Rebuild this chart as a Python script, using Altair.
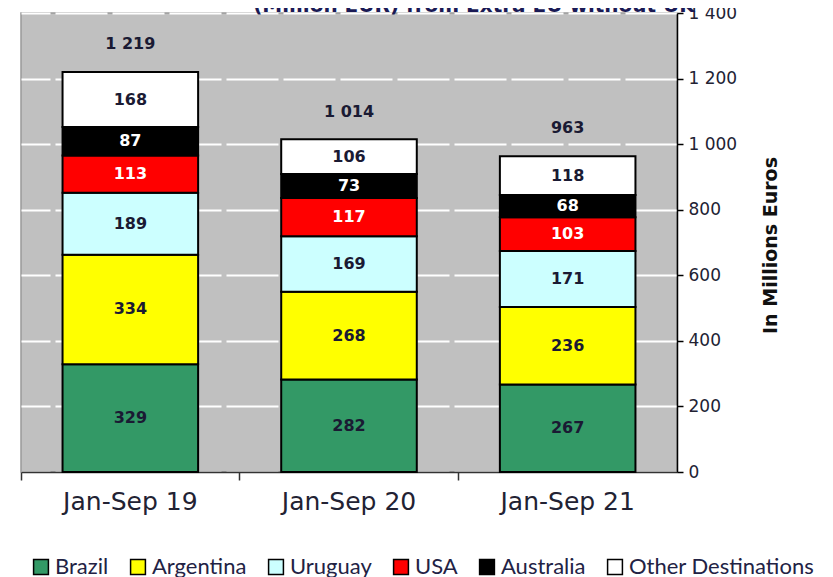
import altair as alt
import pandas as pd

periods = ["Jan-Sep 19", "Jan-Sep 20", "Jan-Sep 21"]
destinations = ["Brazil", "Argentina", "Uruguay", "USA", "Australia", "Other Destinations"]
brazil = [329, 282, 267]
argentina = [334, 268, 236]
uruguay = [189, 169, 171]
usa = [113, 117, 103]
australia = [87, 73, 68]
other = [168, 106, 118]
totals = [1219, 1014, 963]
colors = ["#339966", "#FFFF00", "#CCFFFF", "#FF0000", "#000000", "#FFFFFF"]
title_text = "(Million EUR) from Extra EU without UK"

series = [brazil, argentina, uruguay, usa, australia, other]
rows = []
for i, p in enumerate(periods):
    acc = 0
    for d, vals in zip(destinations, series):
        v = vals[i]
        rows.append({"period": p, "dest": d, "value": v,
                     "start": acc, "end": acc + v, "mid": acc + v / 2})
        acc += v
df = pd.DataFrame(rows)
tot = pd.DataFrame({"period": periods, "total": totals})

FONT = "DejaVu Sans, sans-serif"
LEGFONT = "Lato, sans-serif"
TXT = "#1a1a33"

xenc = alt.X("period:N", sort=periods, title=None,
             scale=alt.Scale(paddingInner=0, paddingOuter=0),
             axis=alt.Axis(labelAngle=0, labelFontSize=25, labelFont=FONT,
                           labelColor="#222233", labelPadding=9, tickSize=8,
                           bandPosition=0, domainColor="#333333", tickColor="#333333",
                           domainWidth=1.5, tickWidth=1.5))

bars = alt.Chart(df).mark_bar(stroke="black", strokeWidth=2,
                              width=alt.RelativeBandSize(0.62)).encode(
    x=xenc,
    y=alt.Y("start:Q", scale=alt.Scale(domain=[0, 1400]), title="In Millions Euros",
            axis=alt.Axis(orient="right", values=list(range(0, 1401, 200)),
                          labelExpr="replace(format(datum.value, ','), ',', ' ')",
                          labelFontSize=17, labelFont=FONT, labelColor="#222233",
                          labelPadding=5, tickSize=6, tickColor="black",
                          domainColor="black", domainWidth=1.5, tickWidth=1.5,
                          grid=True, gridColor="white", gridWidth=2, gridDash=[52, 5],
                          titleFontSize=19, titleFont=FONT, titleFontWeight="bold",
                          titleColor="#111111", titleAngle=270, titleX=93, titleY=232,
                          titleAlign="center", titleBaseline="middle")),
    y2="end:Q",
    color=alt.Color("dest:N", scale=alt.Scale(domain=destinations, range=colors),
                    legend=alt.Legend(title=None, orient="none", direction="horizontal",
                                      legendX=9, legendY=543, symbolType="square",
                                      symbolSize=220, symbolStrokeColor="black",
                                      symbolStrokeWidth=1.5, symbolOpacity=1,
                                      labelFontSize=22, labelFont=LEGFONT,
                                      labelColor="#222244", columnPadding=18,
                                      labelOffset=3, labelLimit=300)),
)

seg_text = alt.Chart(df).mark_text(fontSize=16, fontWeight="bold", font=FONT).encode(
    x=alt.X("period:N", sort=periods),
    y=alt.Y("mid:Q"),
    text=alt.Text("value:Q"),
    color=alt.condition(alt.FieldOneOfPredicate(field="dest", oneOf=["USA", "Australia"]),
                        alt.value("white"), alt.value(TXT)),
)

tot_text = alt.Chart(tot).transform_calculate(
    label="replace(format(datum.total, ','), ',', ' ')"
).mark_text(fontSize=16, fontWeight="bold", font=FONT, dy=-28, color=TXT).encode(
    x=alt.X("period:N", sort=periods),
    y=alt.Y("total:Q"),
    text="label:N",
)

title_layer = alt.Chart(pd.DataFrame({"t": [title_text]})).mark_text(
    fontSize=20, fontWeight="bold", font=FONT, color="#1a1a55",
    align="center", baseline="alphabetic"
).encode(x=alt.value(453), y=alt.value(-1), text="t:N")

chart = alt.layer(bars, seg_text, tot_text, title_layer).properties(
    width=656, height=459,
    autosize=alt.AutoSizeParams(type="none"),
    padding={"left": 13, "top": 5, "right": 140, "bottom": 105},
).configure_view(fill="#C0C0C0", stroke="#999999", strokeWidth=1.5)

chart.save("out.html", embed_options={"renderer": "svg", "actions": False})
